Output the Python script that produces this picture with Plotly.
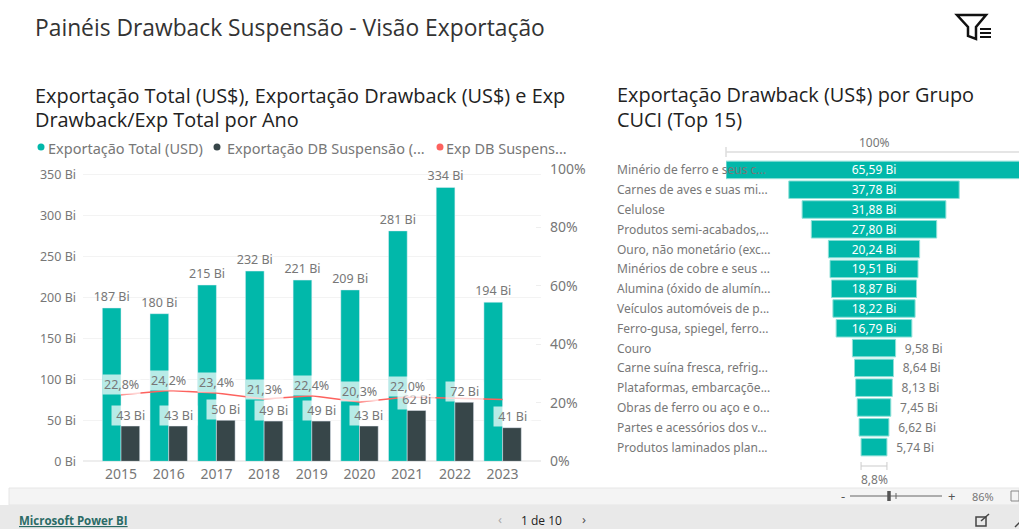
import plotly.graph_objects as go

W, H = 1019, 529
FONT = "Noto Sans"
TITLE_FONT = "Open Sans"
GRAY = "#777777"
TEAL, DARK, RED = "#01B8AA", "#374649", "#FD625E"
NB = "\u00a0"

years = ["2015", "2016", "2017", "2018", "2019", "2020", "2021", "2022", "2023"]
total_bi = [187, 180, 215, 232, 221, 209, 281, 334, 194]
db_bi = [43, 43, 50, 49, 49, 43, 62, 72, 41]
ratio_pct = [22.8, 24.2, 23.4, 21.3, 22.4, 20.3, 22.0, 21.6, 21.1]
ratio_labeled = [True, True, True, True, True, True, True, False, False]

groups = ["Minério de ferro e seus c...", "Carnes de aves e suas mi...", "Celulose",
          "Produtos semi-acabados,...", "Ouro, não monetário (exc...", "Minérios de cobre e seus ...",
          "Alumina (óxido de alumín...", "Veículos automóveis de p...", "Ferro-gusa, spiegel, ferro...",
          "Couro", "Carne suína fresca, refrig...", "Plataformas, embarcaçõe...",
          "Obras de ferro ou aço e o...", "Partes e acessórios dos v...", "Produtos laminados plan..."]
group_bi = [65.59, 37.78, 31.88, 27.80, 20.24, 19.51, 18.87, 18.22, 16.79, 9.58, 8.64, 8.13, 7.45, 6.62, 5.74]
inside_count = 9


def X(px):
    return px / W


def Y(py):
    return 1 - py / H


def txt(x, y, s, size=12, color=GRAY, anchor="left", family=FONT):
    dx = -2 if anchor == "left" else 0
    return dict(text=s, x=X(x + dx), y=Y(y), xref="paper", yref="paper", showarrow=False,
                xanchor=anchor, yanchor="middle", font=dict(size=size, color=color, family=family))


def fmt(v):
    return f"{v:.2f}".replace(".", ",") + " Bi"


fig = go.Figure()
fig.add_bar(x=years, y=total_bi, marker_color=TEAL, name="Exportação Total (USD)",
            text=[f"{v} Bi" for v in total_bi], textposition="outside", cliponaxis=False, constraintext="none",
            textfont=dict(size=12.5, color=GRAY, family=FONT))
fig.add_bar(x=years, y=db_bi, marker_color=DARK, name="Exportação DB Suspensão")
fig.add_scatter(x=years, y=ratio_pct, yaxis="y2", mode="lines", line=dict(color=RED, width=1.5),
                name="Exp DB Suspensão")
fig.add_funnel(x=group_bi, y=groups, orientation="h", xaxis="x2", yaxis="y3",
               marker=dict(color=TEAL, line=dict(color="#8fe0d8", width=1)),
               connector=dict(visible=False),
               text=[fmt(v) if i < inside_count else NB + NB + fmt(v) for i, v in enumerate(group_bi)],
               textinfo="text",
               textposition=["inside"] * inside_count + ["outside"] * (len(group_bi) - inside_count),
               insidetextanchor="middle", constraintext="none", textangle=0,
               insidetextfont=dict(size=12, color="white", family=FONT),
               outsidetextfont=dict(size=12, color=GRAY, family=FONT))

ann = [
    txt(35, 28, "Painéis Drawback Suspensão - Visão Exportação", 22.8, "#333333", family=TITLE_FONT),
    txt(35, 96, "Exportação Total (US$), Exportação Drawback (US$) e Exp", 19.9, "#222222", family=TITLE_FONT),
    txt(35, 120, "Drawback/Exp Total por Ano", 19.9, "#222222", family=TITLE_FONT),
    txt(617, 95, "Exportação Drawback (US$) por Grupo", 19.9, "#222222", family=TITLE_FONT),
    txt(617, 119, "CUCI (Top 15)", 19.9, "#222222", family=TITLE_FONT),
    txt(48, 148, "Exportação Total (USD)", 14.5),
    txt(227, 148, "Exportação DB Suspensão (...", 14.5),
    txt(446, 148, "Exp DB Suspens...", 14.5),
    txt(874, 142, "100%", 12, GRAY, "center"),
    txt(874, 479, "8,8%", 12, GRAY, "center"),
    txt(19, 520, "<u><b>Microsoft Power BI</b></u>", 11.5, "#2b6b66", family=TITLE_FONT),
    txt(541, 520, "1 de 10", 12, "#222222", "center", TITLE_FONT),
    txt(500, 519, "‹", 13, "#aaaaaa", "center"),
    txt(584, 519, "›", 13, "#555555", "center"),
    txt(843, 496, "-", 13, "#555555", "center"),
    txt(951, 496, "+", 13, "#555555", "center"),
    txt(983, 496, "86%", 11, GRAY, "center"),
]
PILL = "rgba(255,255,255,0.72)"
for i, v in enumerate(db_bi):
    ann.append(dict(text=f"{NB}{v} Bi{NB}", x=i, y=v, xref="x", yref="y", showarrow=False, xshift=9.4, yshift=11,
                    bgcolor=PILL, font=dict(size=12.5, color=GRAY, family=FONT), xanchor="center", yanchor="middle"))
for i, (v, show) in enumerate(zip(ratio_pct, ratio_labeled)):
    if show:
        label = f"{v:.1f}%".replace(".", ",")
        ann.append(dict(text=label, x=i, y=v, xref="x", yref="y2", showarrow=False, yshift=10,
                        bgcolor=PILL, font=dict(size=12.5, color=GRAY, family=FONT), xanchor="center", yanchor="middle"))
for g in groups:
    ann.append(dict(text=g, x=X(615), y=g, xref="paper", yref="y3", showarrow=False, xanchor="left", yanchor="middle",
                    font=dict(size=12, color=GRAY, family=FONT)))


def rect(x0, y0, x1, y1, fill, line=None):
    return dict(type="rect", xref="paper", yref="paper", x0=X(x0), x1=X(x1), y0=Y(y0), y1=Y(y1),
                fillcolor=fill, line=dict(width=0 if line is None else 1, color=line), layer="below")


def seg(x0, y0, x1, y1, color="#dddddd", width=1.5):
    return dict(type="line", xref="paper", yref="paper", x0=X(x0), x1=X(x1), y0=Y(y0), y1=Y(y1),
                line=dict(color=color, width=width))


def dot(x, y, color):
    return dict(type="circle", xref="paper", yref="paper", x0=X(x - 3.5), x1=X(x + 3.5), y0=Y(y + 3.5), y1=Y(y - 3.5),
                fillcolor=color, line=dict(width=0))


def poly(points, color="#111111", width=2.5):
    p = "M " + " L ".join(f"{X(a):.5f},{Y(b):.5f}" for a, b in points) + " Z"
    return dict(type="path", xref="paper", yref="paper", path=p, line=dict(color=color, width=width))


shapes = [
    rect(9, 488, 1019, 505, "#f4f4f4", "#e6e6e6"),
    rect(0, 505, 1019, 529, "#e9e9e9"),
    dot(41, 147, TEAL), dot(217, 147, DARK), dot(440, 147, RED),
    seg(726, 152, 1019, 152), seg(726, 147, 726, 157),
    dict(type="line", xref="x2", yref="paper", x0=-group_bi[-1] / 2, x1=group_bi[-1] / 2, y0=Y(466), y1=Y(466),
         line=dict(color="#dddddd", width=1.5)),
    dict(type="line", xref="x2", yref="paper", x0=-group_bi[-1] / 2, x1=-group_bi[-1] / 2, y0=Y(462), y1=Y(470),
         line=dict(color="#cccccc", width=1)),
    dict(type="line", xref="x2", yref="paper", x0=group_bi[-1] / 2, x1=group_bi[-1] / 2, y0=Y(462), y1=Y(470),
         line=dict(color="#cccccc", width=1)),
    poly([(957, 15), (986, 15), (976, 27), (976, 39), (968, 36), (968, 27)]),
    seg(980, 29, 991, 29, "#111111", 2), seg(980, 33, 991, 33, "#111111", 2), seg(980, 37, 991, 37, "#111111", 2),
    seg(850, 496, 942, 496, "#666666", 1), seg(889, 491, 889, 501, "#555555", 3.5), seg(896, 493, 896, 499, "#666666", 1),
    rect(1011, 491, 1019, 501, "#f4f4f4", "#888888"),
    poly([(976, 517), (986, 517), (986, 526), (976, 526)], "#444444", 1.5),
    seg(981, 521, 989, 514, "#444444", 1.5),
    seg(1015, 527, 1021, 521, "#444444", 1.5),
]

fig.update_layout(
    width=W, height=H, autosize=False, margin=dict(l=0, r=0, t=0, b=0, autoexpand=False),
    paper_bgcolor="white", plot_bgcolor="rgba(0,0,0,0)", showlegend=False,
    barmode="group", bargap=0.216, bargroupgap=0, funnelgap=0.115,
    font=dict(family=FONT, color=GRAY, size=12),
    annotations=ann, shapes=shapes,
    xaxis=dict(domain=[X(83), X(541)], range=[-0.797, 8.805], type="category", anchor="y", showgrid=False,
               showline=False, ticks="", tickfont=dict(size=14, color=GRAY), ticklabelstandoff=3),
    yaxis=dict(domain=[Y(461.3), Y(169)], range=[0, 292.3 / 0.82], anchor="x", tick0=0, dtick=50,
               ticksuffix=" Bi", gridcolor="#f3f3f3", zeroline=True, zerolinecolor="#eeeeee", showline=False,
               tickfont=dict(size=12.5, color=GRAY), ticklabelstandoff=6),
    yaxis2=dict(domain=[Y(461.3), Y(169)], overlaying="y", side="right", anchor="x", range=[0, 100], showgrid=False,
                zeroline=False, tick0=0, dtick=20, ticksuffix="%", ticks="inside", ticklen=5,
                tickcolor="#eeeeee", tickfont=dict(size=14, color=GRAY), ticklabelstandoff=8),
    xaxis2=dict(domain=[X(726), 1], range=[-148 / 4.51, 145 / 4.51], anchor="y3", visible=False),
    yaxis3=dict(domain=[Y(457), Y(160)], range=[14.5, -0.5], anchor="x2", visible=False),
)
fig.write_html("out.html", config=dict(displayModeBar=False),
               post_script="document.body.style.margin='0';document.body.style.overflow='hidden';")
